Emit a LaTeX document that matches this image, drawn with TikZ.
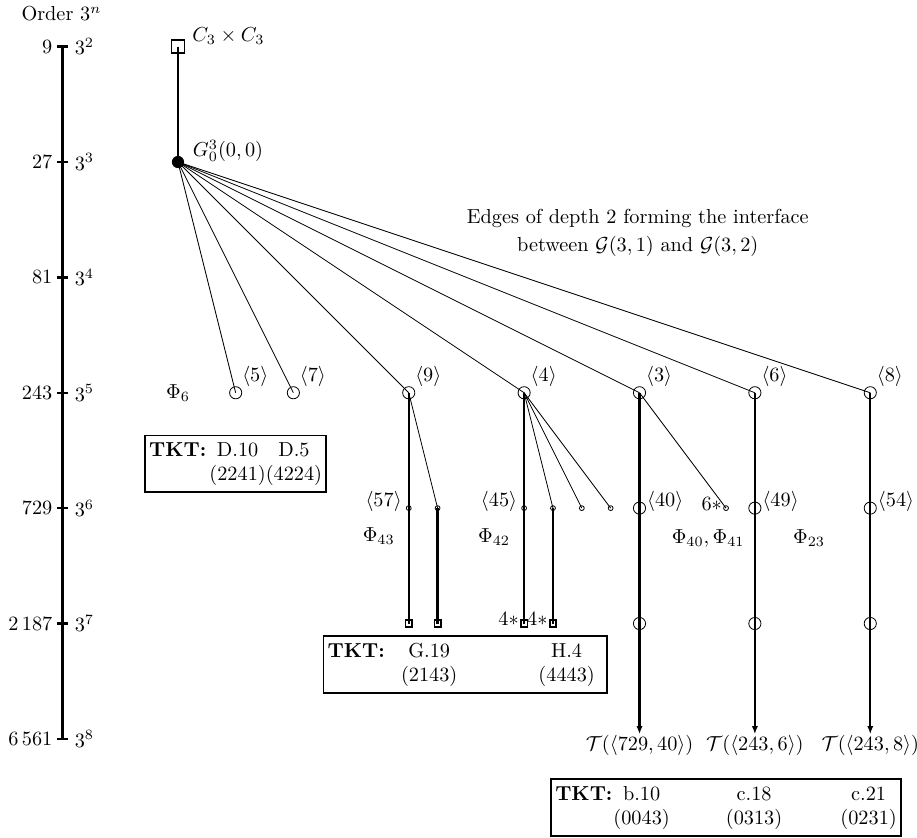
\documentclass[tikz,border=0pt]{standalone}
\usetikzlibrary{positioning,arrows.meta}
\tikzset{
  grp/.style={circle,draw,thin,inner sep=0pt,minimum size=6pt},
  sgrp/.style={circle,draw,thin,inner sep=0pt,minimum size=2.4pt},
  term/.style={rectangle,draw,thick,inner sep=0pt,minimum size=3.2pt},
  tkt/.style={draw,thick,inner sep=2pt},
  toplbl/.style={inner sep=0.8pt},
  sidelbl/.style={inner sep=0.4pt,yshift=3.5pt},
  leftlbl/.style={inner sep=1.9pt,yshift=3.5pt},
  starlbl/.style={inner sep=0.5pt,yshift=2pt}
}
\begin{document}
\begin{tikzpicture}
  \useasboundingbox (-3.085,2.808) rectangle (12.81,-11.716);
  % order axis
  \node (order) at (-2.02,2.57) {Order $3^n$};
  \draw[very thick] (-2,2) -- (-2,-10);
  \foreach \n/\v in {2/9,3/27,4/81,5/243,6/729,7/{2\,187},8/{6\,561}} {
    \draw[very thick] (-2.1,{6-2*\n}) -- (-1.9,{6-2*\n});
    \node[anchor=east,inner sep=2pt] (o\n) at (-2.1,{6-2*\n}) {$\v$};
    \node[anchor=west,inner sep=3pt] (p\n) at (-1.9,{6-2*\n}) {$3^{\n}$};
  }
  % root and first branches
  \node[rectangle,draw,thick,inner sep=0pt,minimum size=6.4pt,
    label={[yshift=5pt]east:$C_3\times C_3$}] (c33) at (0,2) {};
  \node[circle,fill,inner sep=0pt,minimum size=6pt,
    label={[inner sep=4pt,yshift=5.5pt]east:$G^3_0(0,0)$}] (g0) at (0,0) {};
  \foreach \x/\k in {1/5,2/7,4/9,6/4,8/3,10/6,12/8}
    \node[grp,label={[toplbl]north east:$\langle\k\rangle$}] (a\k) at (\x,-4) {};
  \foreach \k in {5,7,9,4,3,6,8}
    \draw[thin] (g0.center) -- (a\k.center);
  \node[align=center] (edges) at (7.97,-1.23)
    {Edges of depth 2 forming the interface\\[2pt]
     between $\mathcal{G}(3,1)$ and $\mathcal{G}(3,2)$};
  % order 729
  \node[sgrp,label={[leftlbl]west:$\langle57\rangle$}] (b57) at (4,-6) {};
  \node[sgrp] (b9x) at (4.5,-6) {};
  \node[sgrp,label={[leftlbl]west:$\langle45\rangle$}] (b45) at (6,-6) {};
  \node[sgrp] (b4x) at (6.5,-6) {};
  \node[sgrp] (b4y) at (7,-6) {};
  \node[sgrp] (b4z) at (7.5,-6) {};
  \node[grp,label={[sidelbl]east:$\langle40\rangle$}] (b40) at (8,-6) {};
  \node[sgrp,label={[starlbl]west:$6*$}] (b3x) at (9.5,-6) {};
  \node[grp,label={[sidelbl]east:$\langle49\rangle$}] (b49) at (10,-6) {};
  \node[grp,label={[sidelbl]east:$\langle54\rangle$}] (b54) at (12,-6) {};
  \draw[thin] (a9.center) -- (b9x.center);
  \foreach \k in {b4x,b4y,b4z}
    \draw[thin] (a4.center) -- (\k.center);
  \draw[thin] (a3.center) -- (b3x.center);
  % order 2187
  \node[term] (t1) at (4,-8) {};
  \node[term] (t2) at (4.5,-8) {};
  \node[term,label={[starlbl]west:$4*$}] (t3) at (6,-8) {};
  \node[term,label={[starlbl]west:$4*$}] (t4) at (6.5,-8) {};
  \node[grp] (c40) at (8,-8) {};
  \node[grp] (c49) at (10,-8) {};
  \node[grp] (c54) at (12,-8) {};
  \coordinate (e40) at (8,-9.92);
  \coordinate (e49) at (10,-9.92);
  \coordinate (e54) at (12,-9.92);
  % mainlines
  \draw[very thick] (c33.center) -- (g0.center);
  \draw[very thick] (a9.center) -- (t1.center);
  \draw[very thick] (b9x.center) -- (t2.center);
  \draw[very thick] (a4.center) -- (t3.center);
  \draw[very thick] (b4x.center) -- (t4.center);
  \foreach \a/\e in {a3/e40,a6/e49,a8/e54}
    \draw[very thick,-{Latex[length=4pt,width=3pt]}] (\a.center) -- (\e);
  \node[below=0pt of e40,inner sep=0.5pt] (tr40) {$\mathcal{T}(\langle729,40\rangle)$};
  \node[below=0pt of e49,inner sep=0.5pt] (tr6) {$\mathcal{T}(\langle243,6\rangle)$};
  \node[below=0pt of e54,inner sep=0.5pt] (tr8) {$\mathcal{T}(\langle243,8\rangle)$};
  % coclass labels
  \node (phi6) at (0,-4) {$\Phi_{6}$};
  \node (phi43) at (3.48,-6.48) {$\Phi_{43}$};
  \node (phi42) at (5.48,-6.5) {$\Phi_{42}$};
  \node (phi40) at (9.19,-6.52) {$\Phi_{40},\Phi_{41}$};
  \node (phi23) at (10.94,-6.52) {$\Phi_{23}$};
  % TKT boxes
  \node[tkt] (tkt1) at (1,-5.23)
    {\begin{tabular}{@{}l@{\hspace{1.5pt}}c@{}c@{}}
      \textbf{TKT:} & D.10 & D.5\\
      & (2241) & (4224)
    \end{tabular}};
  \node[tkt] (tkt2) at (4.98,-8.71)
    {\begin{tabular}{@{}l@{\hspace{8pt}}c@{\hspace{40pt}}c@{\hspace{4pt}}}
      \textbf{TKT:} & G.19 & H.4\\
      & (2143) & (4443)
    \end{tabular}};
  \node[tkt] (tkt3) at (9.5,-11.19)
    {\begin{tabular}{@{}l@{\hspace{0.5pt}}c@{\hspace{27.7pt}}c@{\hspace{28.7pt}}c@{}}
      \textbf{TKT:} & b.10 & c.18 & c.21\\
      & (0043) & (0313) & (0231)
    \end{tabular}};
\end{tikzpicture}
\end{document}
